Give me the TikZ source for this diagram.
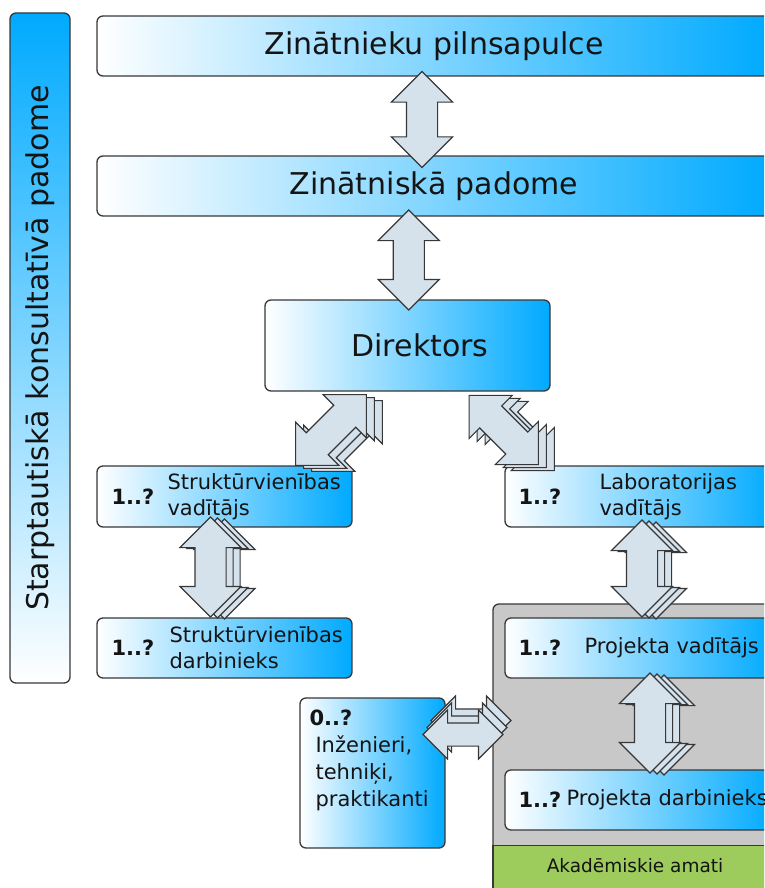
\documentclass[tikz,border=0pt]{standalone}
\usepackage{fontspec}
\setmainfont{DejaVu Sans}
\usetikzlibrary{positioning,calc,shapes.arrows,shadows}

\definecolor{boxblue}{RGB}{0,170,255}
\definecolor{boxline}{RGB}{56,56,56}
\definecolor{textblack}{RGB}{20,20,20}
\definecolor{arrowfill}{RGB}{213,226,236}
\definecolor{arrowline}{RGB}{55,55,55}
\definecolor{grayarea}{RGB}{200,200,200}
\definecolor{greenarea}{RGB}{158,204,92}

\begin{document}
\begin{tikzpicture}[x=1pt,y=-1pt,
    box/.style={draw=boxline, line width=1.3pt, rounded corners=6pt, left color=white, right color=boxblue, inner sep=0pt, text=textblack},
    big/.style={font=\fontsize{30}{36}\selectfont, text=textblack},
    num/.style={font=\fontsize{21}{26}\selectfont\bfseries, inner sep=0pt, text=textblack},
    lbl/.style={font=\fontsize{21}{26}\selectfont, align=left, inner sep=0pt, text=textblack},
    blk/.style={double arrow, draw=arrowline, fill=arrowfill, line width=1.1pt, inner xsep=0pt, inner ysep=15pt, minimum width=60pt, double arrow head extend=15pt, double arrow tip angle=90},
    stack/.style 2 args={double copy shadow={shadow xshift=#1, shadow yshift=#2, fill=arrowfill, draw=arrowline, line width=1.1pt}}]
    \useasboundingbox (0,0) rectangle (764,888);
    \clip (0,0) rectangle (764,888);

    % left bar
    \node[draw=boxline, line width=1.3pt, rounded corners=6pt, top color=boxblue, bottom color=white, minimum width=60, minimum height=670] (side) at (40,348) {};
    \node[big, rotate=90] (sidetxt) at (side.center) {Starptautiskā konsultatīvā padome};

    % top levels
    \node[box, big, minimum width=674, minimum height=60] (pilns) at (434,46) {Zinātnieku pilnsapulce};
    \node[box, big, minimum width=674, minimum height=60] (zpad) at (434,186) {Zinātniskā padome};
    \node[box, big, minimum width=285, minimum height=91] (dir) at (407.5,345.5) {\hspace*{25pt}Direktors};

    % structural units
    \node[box, minimum width=255, minimum height=61] (svad) at (224.5,496.5) {};
    \node[num, right=15pt of svad.west] {1..?};
    \node[lbl, right=71pt of svad.west] {Struktūrvienības\\vadītājs};
    \node[box, minimum width=255, minimum height=60] (sdarb) at (224.5,648) {};
    \node[num, right=15pt of sdarb.west] {1..?};
    \node[lbl, right=73pt of sdarb.west] {Struktūrvienības\\darbinieks};

    % laboratory
    \node[box, minimum width=270, minimum height=61] (lvad) at (640,496.5) {};
    \node[num, right=14pt of lvad.west] {1..?};
    \node[lbl, right=95pt of lvad.west] {Laboratorijas\\vadītājs};

    % academic positions
    \node[draw=boxline, line width=1.3pt, rounded corners=6pt, fill=grayarea, minimum width=307, minimum height=316] (acad) at (646.5,762) {};
    \node[draw=boxline, line width=1.3pt, fill=greenarea, minimum width=307, minimum height=60, anchor=north] (amati) at (646.5,845) {};
    \node[font=\fontsize{18.5}{22}\selectfont, text=textblack] (amatitxt) at (635,866) {Akadēmiskie amati};
    \node[box, minimum width=270, minimum height=60] (pvad) at (640,648) {};
    \node[num, right=14pt of pvad.west] {1..?};
    \node[lbl, right=80pt of pvad.west] {Projekta vadītājs};
    \node[box, minimum width=270, minimum height=60] (pdarb) at (640,800) {};
    \node[num, right=14pt of pdarb.west] {1..?};
    \node[lbl, right=62pt of pdarb.west] {Projekta darbinieks};

    % engineers
    \node[box, minimum width=145, minimum height=150] (inz) at (372.5,773) {};
    \node[num, anchor=west] at ($(inz.north west)+(10,20)$) {0..?};
    \node[lbl, anchor=north west, font=\fontsize{21}{27}\selectfont] at ($(inz.north west)+(16,38)$) {Inženieri,\\tehniķi,\\praktikanti};

    % block arrows
    \node[blk, rotate=90, minimum height=96] (a1) at ($(pilns.south)!0.5!(zpad.north)+(-12,3.5)$) {};
    \node[blk, rotate=90, minimum height=100] (a2) at ($(zpad.south)!0.5!(dir.north)+(-12,2)$) {};
    \node[blk, stack={8pt}{-3pt}, rotate=45, minimum height=100] (a3) at ($(dir.south)!0.5!(svad.north)+(15,1.5)$) {};
    \node[blk, stack={8pt}{-3pt}, rotate=-45, minimum height=98] (a4) at ($(dir.south)!0.5!(lvad.north)+(-20,1.5)$) {};
    \node[blk, stack={7pt}{-1pt}, rotate=90, minimum height=100] (a5) at ($(svad.south)!0.5!(sdarb.north)+(-14,-5.5)$) {};
    \node[blk, stack={7pt}{-1pt}, rotate=90, minimum height=97] (a6) at ($(lvad.south)!0.5!(pvad.north)+(2,-4)$) {};
    \node[blk, stack={7pt}{-1pt}, rotate=90, minimum height=100] (a7) at ($(pvad.south)!0.5!(pdarb.north)+(10,-1)$) {};
    \node[blk, stack={4pt}{7pt}, minimum height=80, minimum width=48pt, inner ysep=11pt, double arrow head extend=13pt] (a8) at ($(inz.east)!0.5!(acad.west)+(-6,-33)$) {};
\end{tikzpicture}
\end{document}
